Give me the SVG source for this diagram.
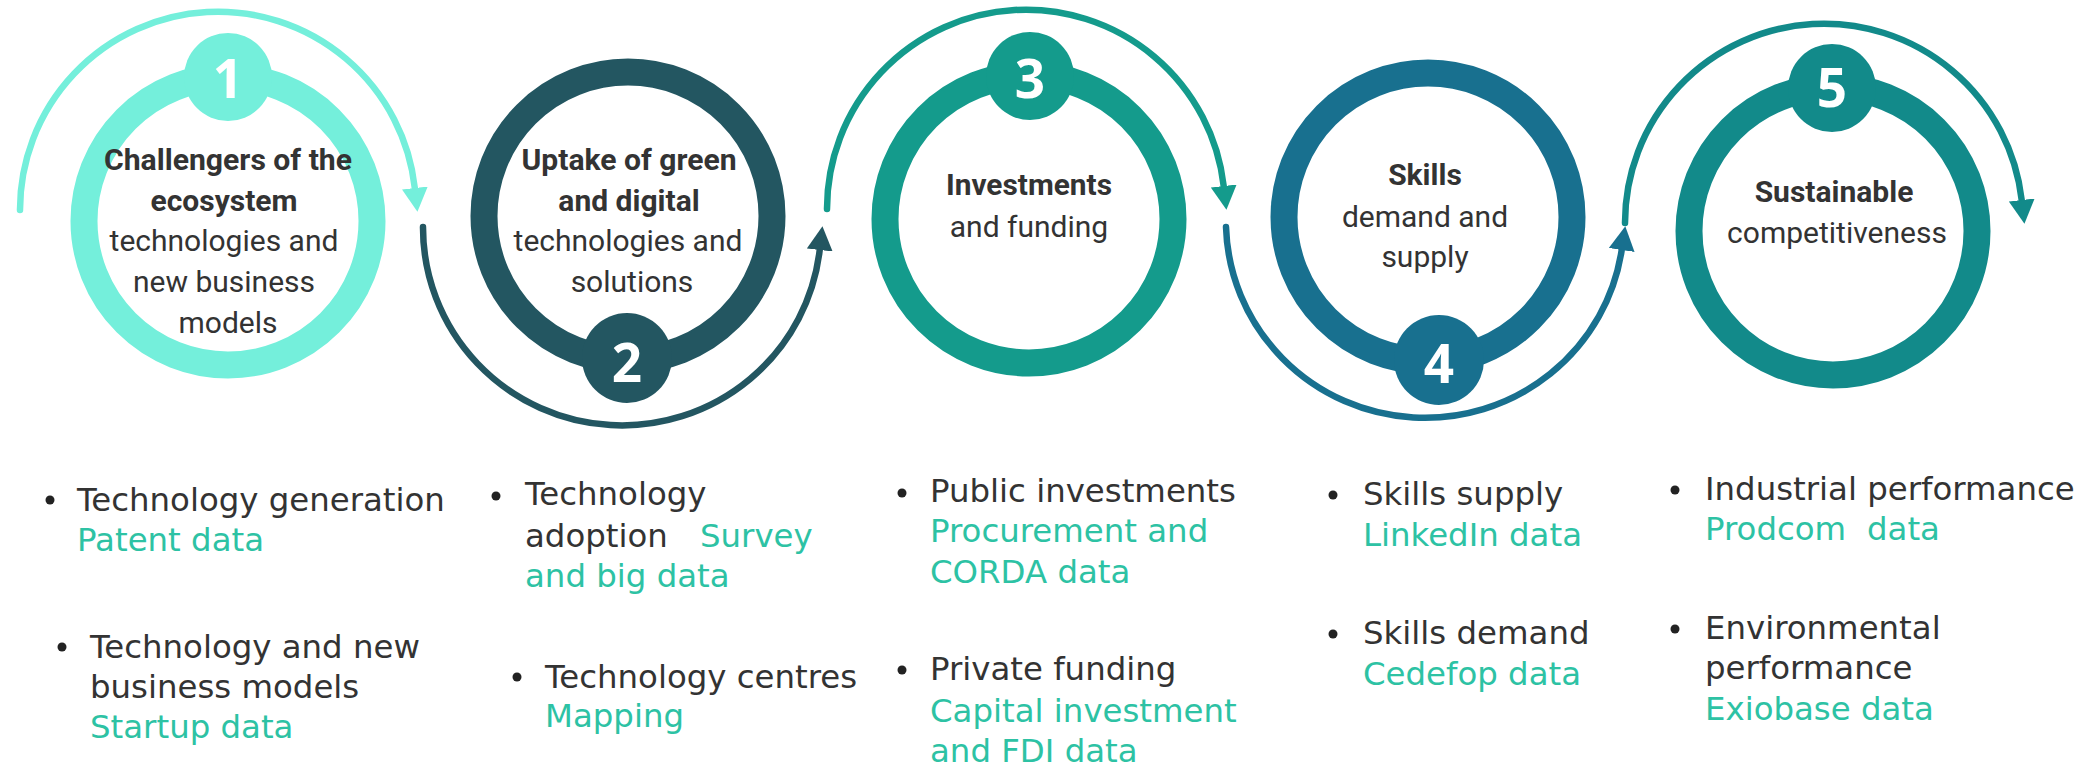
<svg xmlns="http://www.w3.org/2000/svg" width="2080" height="768" viewBox="0 0 2080 768">
<style>
.ring{fill:none;stroke-width:27}
.arc{fill:none;stroke-width:6.5;stroke-linecap:round}
.num{font-family:"Open Sans","DejaVu Sans",sans-serif;font-weight:700;font-size:53px;fill:#ffffff;text-anchor:middle}
.hb{font-family:Roboto,"Liberation Sans",sans-serif;font-weight:700;font-size:30px;fill:#333333;text-anchor:middle}
.hr{font-family:Roboto,"Liberation Sans",sans-serif;font-weight:400;font-size:30px;fill:#333333;text-anchor:middle}
.lt{font-family:"DejaVu Sans",Verdana,sans-serif;font-size:32.4px;fill:#333333}
.ls{font-family:"DejaVu Sans",Verdana,sans-serif;font-size:32.4px;fill:#2DC2A4}
.dot{fill:#222222}
</style>
<defs>
<marker id="m1" viewBox="0 0 24 26" refX="0" refY="13" markerWidth="24" markerHeight="26" markerUnits="userSpaceOnUse" orient="auto"><path d="M0,0 L24,13 L0,26 z" fill="#74EFDB"/></marker>
<marker id="m2" viewBox="0 0 24 26" refX="0" refY="13" markerWidth="24" markerHeight="26" markerUnits="userSpaceOnUse" orient="auto"><path d="M0,0 L24,13 L0,26 z" fill="#235661"/></marker>
<marker id="m3" viewBox="0 0 24 26" refX="0" refY="13" markerWidth="24" markerHeight="26" markerUnits="userSpaceOnUse" orient="auto"><path d="M0,0 L24,13 L0,26 z" fill="#149B8C"/></marker>
<marker id="m4" viewBox="0 0 24 26" refX="0" refY="13" markerWidth="24" markerHeight="26" markerUnits="userSpaceOnUse" orient="auto"><path d="M0,0 L24,13 L0,26 z" fill="#18708F"/></marker>
<marker id="m5" viewBox="0 0 24 26" refX="0" refY="13" markerWidth="24" markerHeight="26" markerUnits="userSpaceOnUse" orient="auto"><path d="M0,0 L24,13 L0,26 z" fill="#128A8A"/></marker>
</defs>
<rect width="2080" height="768" fill="#ffffff"/>

<g id="connectors">
<path class="arc" stroke="#74EFDB" marker-end="url(#m1)" d="M20,210 A198,198 0 0 1 414.8,188"/>
<path class="arc" stroke="#235661" marker-end="url(#m2)" d="M423,227 A199,198 0 0 0 819.7,250"/>
<path class="arc" stroke="#149B8C" marker-end="url(#m3)" d="M827,209 A199,199 0 0 1 1223.7,186"/>
<path class="arc" stroke="#18708F" marker-end="url(#m4)" d="M1226,227 A199,197 0 0 0 1621.7,250"/>
<path class="arc" stroke="#128A8A" marker-end="url(#m5)" d="M1625,223 A199,199 0 0 1 2021.7,200"/>
</g>

<g id="step1">
<circle class="ring" cx="228" cy="221" r="144" stroke="#74EFDB"/>
<circle cx="228" cy="77" r="44" fill="#74EFDB"/>
<text class="num" x="228" y="98">1</text>
<text class="hb" x="228" y="170" textLength="248" lengthAdjust="spacingAndGlyphs">Challengers of the</text>
<text class="hb" x="224" y="211">ecosystem</text>
<text class="hr" x="224" y="251">technologies and</text>
<text class="hr" x="224" y="292">new business</text>
<text class="hr" x="228" y="333">models</text>
</g>

<g id="step2">
<circle class="ring" cx="628" cy="216" r="144" stroke="#235661"/>
<circle cx="627" cy="358" r="45" fill="#235661"/>
<text class="num" x="627" y="382">2</text>
<text class="hb" x="629" y="170" textLength="215" lengthAdjust="spacingAndGlyphs">Uptake of green</text>
<text class="hb" x="629" y="211">and digital</text>
<text class="hr" x="628" y="251">technologies and</text>
<text class="hr" x="632" y="292">solutions</text>
</g>

<g id="step3">
<circle class="ring" cx="1029" cy="219" r="144" stroke="#149B8C"/>
<circle cx="1030" cy="76" r="44" fill="#149B8C"/>
<text class="num" x="1030" y="98">3</text>
<text class="hb" x="1029" y="195" textLength="166" lengthAdjust="spacingAndGlyphs">Investments</text>
<text class="hr" x="1029" y="237">and funding</text>
</g>

<g id="step4">
<circle class="ring" cx="1428" cy="217" r="144" stroke="#18708F"/>
<circle cx="1439" cy="360" r="45" fill="#18708F"/>
<text class="num" x="1439" y="383">4</text>
<text class="hb" x="1425" y="185">Skills</text>
<text class="hr" x="1425" y="227">demand and</text>
<text class="hr" x="1425" y="267">supply</text>
</g>

<g id="step5">
<circle class="ring" cx="1833" cy="231" r="144" stroke="#128A8A"/>
<circle cx="1832" cy="88" r="44" fill="#128A8A"/>
<text class="num" x="1832" y="107">5</text>
<text class="hb" x="1834" y="202">Sustainable</text>
<text class="hr" x="1837" y="243">competitiveness</text>
</g>

<g id="list1">
<circle class="dot" cx="50" cy="500" r="4.5"/>
<text class="lt" x="77" y="511">Technology generation</text>
<text class="ls" x="77" y="551">Patent data</text>
<circle class="dot" cx="62" cy="647" r="4.5"/>
<text class="lt" x="90" y="658">Technology and new</text>
<text class="lt" x="90" y="698">business models</text>
<text class="ls" x="90" y="738">Startup data</text>
</g>

<g id="list2">
<circle class="dot" cx="496" cy="496" r="4.5"/>
<text class="lt" x="525" y="505">Technology</text>
<text class="lt" x="525" y="547">adoption</text>
<text class="ls" x="700" y="547">Survey</text>
<text class="ls" x="525" y="587">and big data</text>
<circle class="dot" cx="517" cy="677" r="4.5"/>
<text class="lt" x="545" y="688">Technology centres</text>
<text class="ls" x="545" y="727">Mapping</text>
</g>

<g id="list3">
<circle class="dot" cx="902" cy="493" r="4.5"/>
<text class="lt" x="930" y="502">Public investments</text>
<text class="ls" x="930" y="542">Procurement and</text>
<text class="ls" x="930" y="583">CORDA data</text>
<circle class="dot" cx="902" cy="670" r="4.5"/>
<text class="lt" x="930" y="680">Private funding</text>
<text class="ls" x="930" y="722">Capital investment</text>
<text class="ls" x="930" y="762">and FDI data</text>
</g>

<g id="list4">
<circle class="dot" cx="1333" cy="495" r="4.5"/>
<text class="lt" x="1363" y="505">Skills supply</text>
<text class="ls" x="1363" y="546">LinkedIn data</text>
<circle class="dot" cx="1333" cy="634" r="4.5"/>
<text class="lt" x="1363" y="644">Skills demand</text>
<text class="ls" x="1363" y="685">Cedefop data</text>
</g>

<g id="list5">
<circle class="dot" cx="1675" cy="490" r="4.5"/>
<text class="lt" x="1705" y="500">Industrial performance</text>
<text class="ls" x="1705" y="540">Prodcom</text>
<text class="ls" x="1867" y="540">data</text>
<circle class="dot" cx="1675" cy="629" r="4.5"/>
<text class="lt" x="1705" y="639">Environmental</text>
<text class="lt" x="1705" y="679">performance</text>
<text class="ls" x="1705" y="720">Exiobase data</text>
</g>
</svg>
